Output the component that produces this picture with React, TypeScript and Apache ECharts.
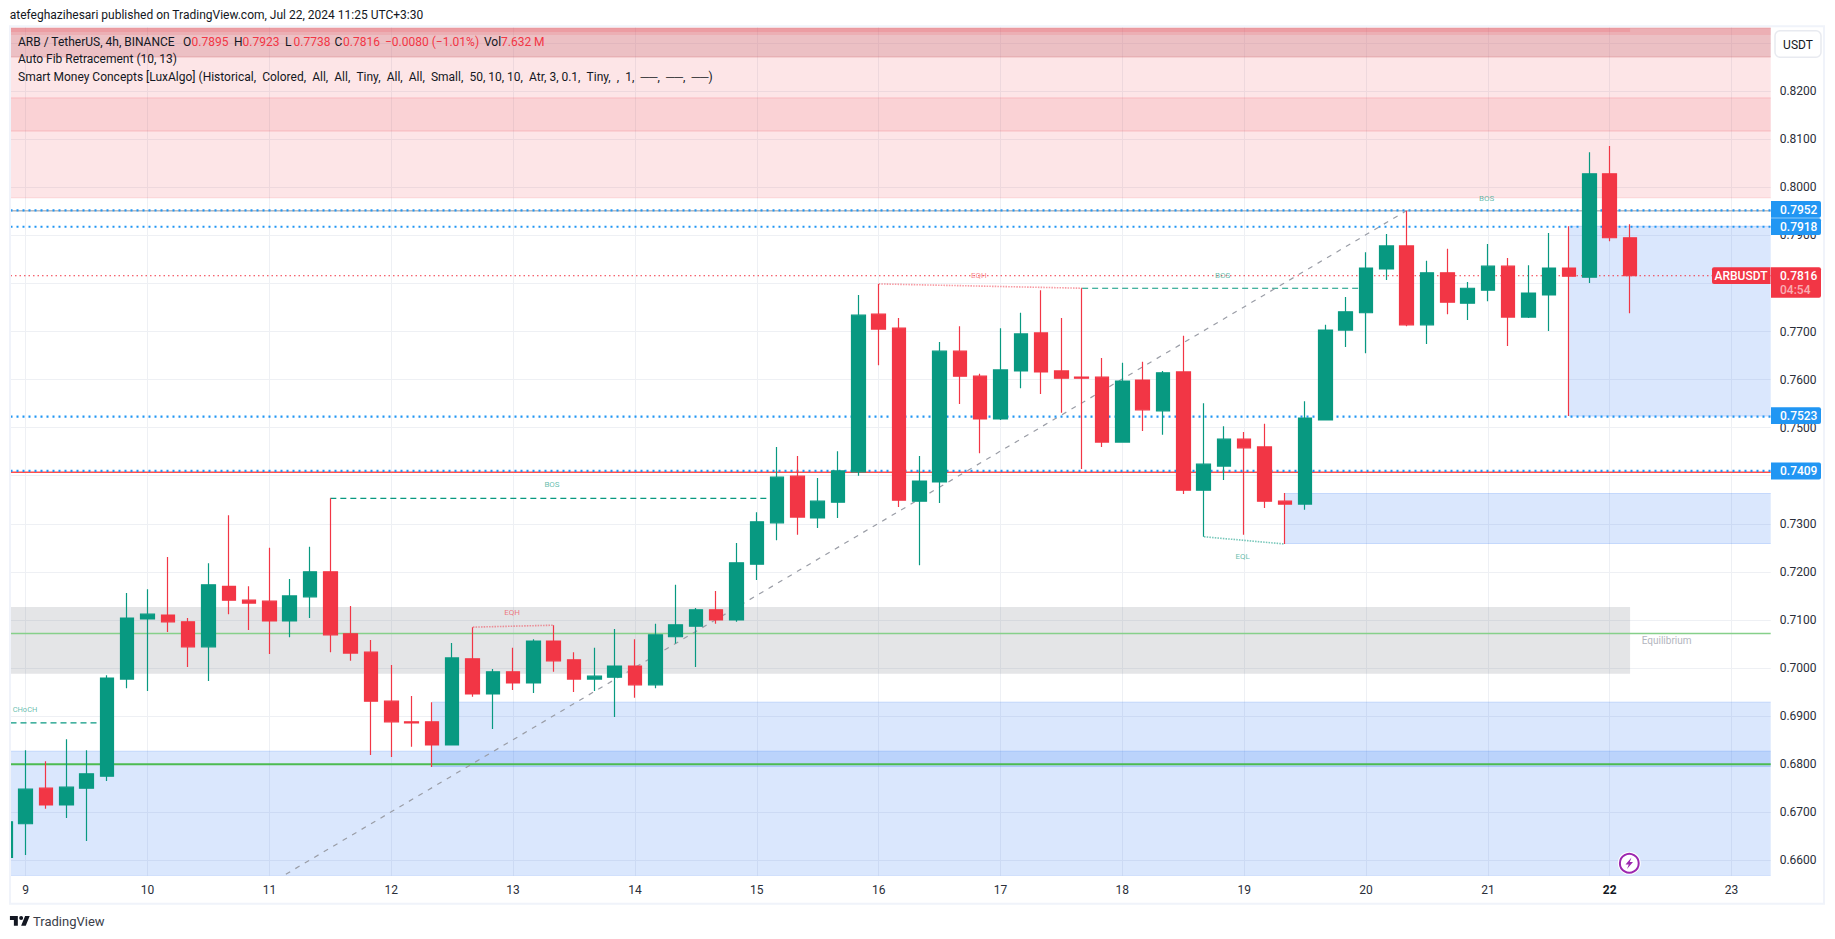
import React, { useEffect, useRef } from "react";
import * as echarts from "echarts";

// ---- data ----
const firstBarOffset = -1;
const opens = [.6606,.6676,.6750,.6715,.6750,.6775,.6977,.7102,.7110,.7096,.7044,.7170,.7141,.7139,.7098,.7148,.7200,.7071,.7033,.6931,.6888,.6888,.6840,.7019,.6946,.6992,.6969,.7056,.7017,.6977,.6981,.7004,.6965,.7065,.7087,.7121,.7100,.7216,.7302,.7399,.7312,.7345,.7408,.7736,.7707,.7347,.7387,.7659,.7607,.7518,.7618,.7697,.7618,.7605,.7605,.7470,.7599,.7535,.7616,.7370,.7420,.7476,.7460,.7347,.7341,.7516,.7703,.7739,.7830,.7878,.7714,.7822,.7759,.7786,.7836,.7730,.7776,.7832,.7813,.8028,.7895];
const closes = [.6680,.6748,.6715,.6752,.6780,.6979,.7104,.7112,.7096,.7044,.7173,.7141,.7135,.7098,.7150,.7200,.7069,.7031,.6931,.6888,.6886,.6840,.7021,.6946,.6992,.6969,.7056,.7015,.6977,.6983,.7004,.6965,.7069,.7090,.7121,.7100,.7219,.7304,.7397,.7314,.7347,.7410,.7734,.7705,.7349,.7389,.7659,.7607,.7518,.7620,.7695,.7616,.7603,.7603,.7470,.7597,.7537,.7614,.7370,.7424,.7476,.7458,.7347,.7341,.7520,.7703,.7741,.7832,.7878,.7714,.7822,.7761,.7790,.7836,.7730,.7780,.7832,.7815,.8028,.7895,.7816];
const lows = [.6600,.6611,.6707,.6688,.6640,.6765,.6958,.6952,.7075,.7002,.6973,.7112,.7079,.7029,.7064,.7104,.7033,.7015,.6819,.6815,.6836,.6794,.6840,.6940,.6873,.6954,.6948,.6992,.6950,.6952,.6898,.6938,.6958,.7051,.7002,.7092,.7096,.7183,.7266,.7277,.7291,.7312,.7400,.7630,.7335,.7214,.7343,.7549,.7447,.7516,.7582,.7570,.7531,.7414,.7460,.7470,.7493,.7485,.7362,.7273,.7391,.7277,.7333,.7258,.7329,.7516,.7668,.7655,.7807,.7711,.7674,.7736,.7724,.7763,.7670,.7728,.7701,.7524,.7801,.7888,.7738];
const highs = [.6685,.6829,.6806,.6852,.6829,.6985,.7156,.7164,.7231,.7104,.7218,.7318,.7170,.7250,.7185,.7252,.7353,.7129,.7058,.7006,.6942,.6929,.7052,.7085,.6998,.7042,.7060,.7089,.7033,.7042,.7081,.7060,.7092,.7173,.7125,.7160,.7260,.7324,.7460,.7441,.7395,.7451,.7776,.7799,.7728,.7441,.7678,.7711,.7612,.7707,.7739,.7786,.7728,.7790,.7645,.7635,.7637,.7618,.7691,.7551,.7503,.7491,.7508,.7364,.7555,.7714,.7772,.7865,.7903,.7951,.7847,.7872,.7803,.7882,.7853,.7838,.7905,.7919,.8073,.8086,.7923];

const dayTicks = [9,10,11,12,13,14,15,16,17,18,19,20,21,22,23];
const priceGridTicks = [.66,.67,.68,.69,.70,.71,.72,.73,.74,.75,.76,.77,.78,.79,.80,.81,.82,.83];
const priceLabelTicks = [.66,.67,.68,.69,.70,.71,.72,.73,.75,.76,.77,.79,.80,.81,.82];

const levelBlue = [.7952,.7918,.7523,.741];
const levelGrey = .7951;
const levelRed = .7407;
const levelGreen = .68;
const levelEquilibrium = .7072;
const lastPrice = .7816;

const bosLineA = [[11.5,.7353],[15.17,.7353]];
const bosLineB = [[17.67,.779],[20,.779]];
const chochEnd = [9.7,.6886];
const eqhLineTop = [[16,.7799],[17.67,.779]];
const eqhLineLow = [[12.67,.7085],[13.33,.7089]];
const eqlLine = [[18.67,.7273],[19.33,.7258]];
const fibLine = [[11.135,.6571],[20.33,.7951]];

const legendTitle = "atefeghazihesari published on TradingView.com, Jul 22, 2024 11:25 UTC+3:30";
const legendSymbol = "ARB / TetherUS, 4h, BINANCE";
const legendOhlc = [["O","0.7895"],["H","0.7923"],["L","0.7738"],["C","0.7816"]];
const legendChange = "−0.0080 (−1.01%)";
const legendVol = ["Vol","7.632 M"];
const legendFib = "Auto Fib Retracement (10, 13)";
const legendSmc = "Smart Money Concepts [LuxAlgo] (Historical,\u2002Colored,\u2002All,\u2002All,\u2002Tiny,\u2002All,\u2002All,\u2002Small,\u200250, 10, 10,\u2002Atr, 3, 0.1,\u2002Tiny,\u2002,\u20021,\u2002──,\u2002──,\u2002──)";

// ---- layout of the pane ----
const paneLeft = 10.5, paneRight = 1770.7, paneTop = 27.3, paneBottom = 875.7;
const day9X = 25.7, dayPx = 121.85;
const xMin = 9 + (paneLeft - day9X) / dayPx;
const xMax = 9 + (paneRight - day9X) / dayPx;
const priceAt80 = 187.3, pxPerPrice = 4807;
const yMax = 0.8 + (priceAt80 - paneTop) / pxPerPrice;
const yMin = 0.8 - (paneBottom - priceAt80) / pxPerPrice;
const lastBarDay = 22.1667;

const candleData = opens.map((o, i) => [9 + (i + firstBarOffset) / 6, o, closes[i], lows[i], highs[i]]);

echarts.graphic.registerShape(
  "tvlogo",
  echarts.graphic.extendPath("M14 6H2v6h6v9h6V6zm12 15h-7l6-15h7l-6 15zm-7-9a3 3 0 1 0 0-6 3 3 0 0 0 0 6z", {} as any) as any
);

function zone(name: string, x0: number, x1: number, top: number, bottom: number, fill: string, stroke: string, z = 1) {
  return {
    type: "custom",
    name,
    z,
    silent: true,
    clip: true,
    xAxisIndex: 0,
    yAxisIndex: 0,
    encode: { x: [0, 1], y: [2, 3] },
    data: [[x0, x1, top, bottom]],
    renderItem: (_: any, api: any) => {
      const a = api.coord([api.value(0), api.value(2)]);
      const b = api.coord([api.value(1), api.value(3)]);
      return {
        type: "group",
        children: [
          { type: "rect", shape: { x: a[0], y: a[1], width: b[0] - a[0], height: b[1] - a[1] }, style: { fill, stroke: "none" } },
          ...(stroke !== "none"
            ? [
                { type: "line", shape: { x1: a[0], y1: a[1], x2: b[0], y2: a[1] }, style: { stroke, lineWidth: 1 } },
                { type: "line", shape: { x1: a[0], y1: b[1], x2: b[0], y2: b[1] }, style: { stroke, lineWidth: 1 } },
              ]
            : []),
        ],
      };
    },
  };
}

function line(name: string, data: number[][], color: string, width: number, type: any, z = 2) {
  return {
    type: "line",
    name,
    z,
    silent: true,
    symbol: "none",
    clip: true,
    data,
    lineStyle: { color, width, type },
    itemStyle: { color },
    emphasis: { disabled: true },
  };
}

const level = (name: string, p: number, color: string, width: number, type: any, z = 2) =>
  line(name, [[xMin, p], [xMax, p]], color, width, type, z);

const FONT = "Roboto, sans-serif";
const INK = "#131722";
const RED = "#f23645";
const GREEN = "#089981";
const BLUE_TAG = "#2196f3";

function txt(text: string, x: number, y: number, fill: string, size = 12, align = "left", weight: any = 400) {
  return {
    type: "text",
    x,
    y,
    z: 100,
    silent: true,
    style: { text, fill, font: `${weight} ${size}px ${FONT}`, align, verticalAlign: "middle" },
  };
}

function box(x: number, y: number, w: number, h: number, fill: string, r: any = 0, stroke?: string) {
  return {
    type: "rect",
    z: 90,
    silent: true,
    shape: { x, y, width: w, height: h, r },
    style: { fill, stroke: stroke || "none", lineWidth: stroke ? 1.5 : 0 },
  };
}

function buildGraphic() {
  const els: any[] = [];
  // white margin that hides the part of the first candle left of the pane
  els.push({ type: "rect", z: 70, silent: true, shape: { x: 0, y: 20, width: 10, height: 870 }, style: { fill: "#ffffff" } });
  // frame
  els.push({ type: "rect", z: 80, silent: true, shape: { x: 10, y: 26.3, width: 1814, height: 877.4 }, style: { fill: "none", stroke: "#f0f3fa", lineWidth: 2 } });
  // heading & legend
  els.push(txt(legendTitle, 9.7, 15.3, INK, 12));
  els.push(txt(legendSymbol, 18, 42, INK, 12));
  const ohlcX = [183, 234, 285, 334.5];
  legendOhlc.forEach(([k, v], i) => {
    els.push(txt(k, ohlcX[i], 42, INK, 12));
    els.push(txt(v, ohlcX[i] + 8.5, 42, RED, 12));
  });
  els.push(txt(legendChange, 385, 42, RED, 12));
  els.push(txt(legendVol[0], 484, 42, INK, 12));
  els.push(txt(legendVol[1], 501, 42, RED, 12));
  els.push(txt(legendFib, 18, 59.3, INK, 12));
  els.push(txt(legendSmc, 18, 76.7, INK, 12));

  // chart annotations
  const annotTeal = "rgba(8,153,129,0.65)";
  const annotPink = "rgba(242,54,69,0.65)";
  els.push(txt("CHoCH", 25, 709, annotTeal, 7.5, "center"));
  els.push(txt("BOS", 552, 484, annotTeal, 8, "center"));
  els.push(txt("BOS", 1222.7, 275.3, annotTeal, 8, "center"));
  els.push(txt("BOS", 1486.7, 198.3, annotTeal, 8, "center"));
  els.push(txt("EQH", 512, 612.3, annotPink, 8, "center"));
  els.push(txt("EQH", 978.8, 275.3, annotPink, 8, "center"));
  els.push(txt("EQL", 1242.7, 556.7, annotTeal, 8, "center"));
  els.push(txt("Equilibrium", 1641.7, 640.7, "#b2b5be", 10));

  // unit button
  els.push(box(1775, 30.7, 46, 26.6, "#ffffff", 5, "#e8eaf0"));
  els.push(txt("USDT", 1798, 44.5, INK, 12, "center"));

  // price tags
  const tags: [string, number][] = [["0.7523", 415.7], ["0.7409", 471], ["0.7952", 209.4], ["0.7918", 226.6]];
  tags.forEach(([t, y]) => {
    els.push(box(1771, y - 8.4, 50, 16.8, BLUE_TAG, [0, 2, 2, 0]));
    els.push(txt(t, 1780, y + 0.3, "#ffffff", 12, "left", 500));
  });
  els.push(box(1712, 267.3, 58.5, 16.7, RED, [2, 0, 0, 2]));
  els.push(txt("ARBUSDT", 1741, 275.9, "#ffffff", 12, "center", 500));
  els.push(box(1771, 267.3, 50, 30.4, RED, [0, 2, 2, 0]));
  els.push(txt("0.7816", 1780, 275.9, "#ffffff", 12, "left", 500));
  els.push(txt("04:54", 1780, 290, "rgba(255,255,255,0.6)", 12, "left", 500));

  // lightning badge
  els.push({ type: "circle", z: 90, silent: true, shape: { cx: 1629.3, cy: 863.3, r: 9.4 }, style: { fill: "#ffffff", stroke: "#9c27b0", lineWidth: 2 } });
  els.push({ type: "circle", z: 89, silent: true, shape: { cx: 1629.3, cy: 863.3, r: 11.5 }, style: { fill: "#ffffff" } });
  els.push({
    type: "polygon", z: 91, silent: true,
    shape: { points: [[1631.5, 857.5], [1625.5, 864.5], [1628.8, 864.5], [1627, 869], [1633, 862], [1629.8, 862]] },
    style: { fill: "#9c27b0" },
  });

  // footer
  els.push({ type: "tvlogo", z: 100, silent: true, x: 8.6, y: 912, scaleX: 0.66, scaleY: 0.66, style: { fill: "#131722" } });
  els.push(txt("TradingView", 33, 921.7, "#3a3e49", 13));
  return els;
}

function buildOption() {
  const pink = "rgba(242,54,69,0.13)";
  const pinkMid = "rgba(225,50,60,0.1)";
  const blue = "rgba(33,110,243,0.17)";
  const blueEdge = "rgba(33,110,243,0.2)";
  return {
    animation: false,
    backgroundColor: "#ffffff",
    grid: { left: paneLeft, right: 1835 - paneRight, top: paneTop, bottom: 939 - paneBottom, containLabel: false },
    xAxis: {
      type: "value",
      min: xMin,
      max: xMax,
      scale: true,
      axisLine: { show: false },
      axisTick: { show: false, customValues: dayTicks },
      axisLabel: {
        customValues: dayTicks,
        showMinLabel: true,
        showMaxLabel: true,
        hideOverlap: false,
        margin: 8,
        fontFamily: FONT,
        fontSize: 12,
        color: "#2a2e39",
        formatter: (v: number) => (Math.round(v) === 22 ? `{b|${Math.round(v)}}` : String(Math.round(v))),
        rich: { b: { fontFamily: FONT, fontSize: 12, fontWeight: 700, color: INK } },
      },
      splitLine: { show: true, lineStyle: { color: "#eef0f4", width: 1 } },
    },
    yAxis: {
      type: "value",
      position: "right",
      min: yMin,
      max: yMax,
      scale: true,
      axisLine: { show: false },
      axisTick: { show: false, customValues: priceGridTicks },
      axisLabel: {
        customValues: priceLabelTicks,
        showMinLabel: true,
        showMaxLabel: true,
        hideOverlap: false,
        margin: 9,
        fontFamily: FONT,
        fontSize: 12,
        color: "#2a2e39",
        formatter: (v: number) => v.toFixed(4),
      },
      splitLine: { show: true, lineStyle: { color: "#eef0f4", width: 1 } },
    },
    series: [
      zone("supply wide", xMin, xMax, yMax, .7978, pink, "rgba(242,54,69,0.12)"),
      zone("supply mid", xMin, xMax, .8186, .8117, pinkMid, "rgba(242,54,69,0.2)"),
      zone("supply top", xMin, xMax, .8331, .8271, "rgba(204,124,131,0.35)", "rgba(204,90,100,0.3)"),
      zone("supply cap", xMin, xMax, .8331, .8317, "rgba(242,54,69,0.12)", "none"),
      zone("supply stripe", xMin, lastBarDay, .8331, .8323, "rgba(242,54,69,0.15)", "none"),
      zone("equilibrium", xMin, lastBarDay, .7127, .6988, "rgba(120,123,134,0.2)", "none"),
      zone("demand base", xMin, xMax, .6827, yMin, blue, blueEdge),
      zone("demand B", 12.3333, xMax, .6929, .6795, blue, blueEdge),
      zone("demand C", 19.3333, xMax, .7363, .7259, blue, blueEdge),
      zone("demand D", 21.6667, xMax, .7919, .7524, blue, blueEdge),
      level("fib 0", levelGrey, "#9598a1", 1, "solid", 2),
      level("red level", levelRed, "#ff4d4d", 1.5, "solid", 2),
      level("green level", levelGreen, "#4cbb50", 2, "solid", 2),
      level("equilibrium line", levelEquilibrium, "#86d08a", 1.5, "solid", 2),
      level("last price", lastPrice, RED, 1, [1.5, 3], 2),
      ...levelBlue.map((p) => level(`level ${p}`, p, "#2196f3", 2.1, [2, 4], 3)),
      line("choch", [[xMin, chochEnd[1]], chochEnd], GREEN, 1.2, [6, 4]),
      line("bos a", bosLineA, GREEN, 1.2, [6, 4]),
      line("bos b", bosLineB, GREEN, 1.2, [6, 4]),
      line("eqh top", eqhLineTop, "rgba(242,54,69,0.5)", 1.6, [1.5, 1.2]),
      line("eqh low", eqhLineLow, "rgba(242,54,69,0.5)", 1.6, [1.5, 1.2]),
      line("eql", eqlLine, "rgba(8,153,129,0.55)", 1.6, [1.5, 1.2]),
      line("fib diagonal", fibLine, "#9a9da6", 1.2, [5, 6]),
      {
        type: "candlestick",
        name: "ARBUSDT",
        z: 5,
        silent: true,
        clip: true,
        barWidth: 14,
        encode: { x: 0, y: [1, 2, 3, 4] },
        data: candleData,
        itemStyle: { color: GREEN, color0: RED, borderColor: GREEN, borderColor0: RED, borderWidth: 1.2 },
      },
    ],
    graphic: { elements: buildGraphic() },
  };
}

export default function App() {
  const ref = useRef<HTMLDivElement | null>(null);
  useEffect(() => {
    document.body.style.margin = "0";
    document.body.style.overflow = "hidden";
    const chart = echarts.init(ref.current as HTMLDivElement, undefined, { renderer: "svg" });
    chart.setOption(buildOption() as any);
    return () => chart.dispose();
  }, []);
  return <div ref={ref} style={{ position: "absolute", left: 0, top: 0, width: 1835, height: 939, background: "#fff" }} />;
}
